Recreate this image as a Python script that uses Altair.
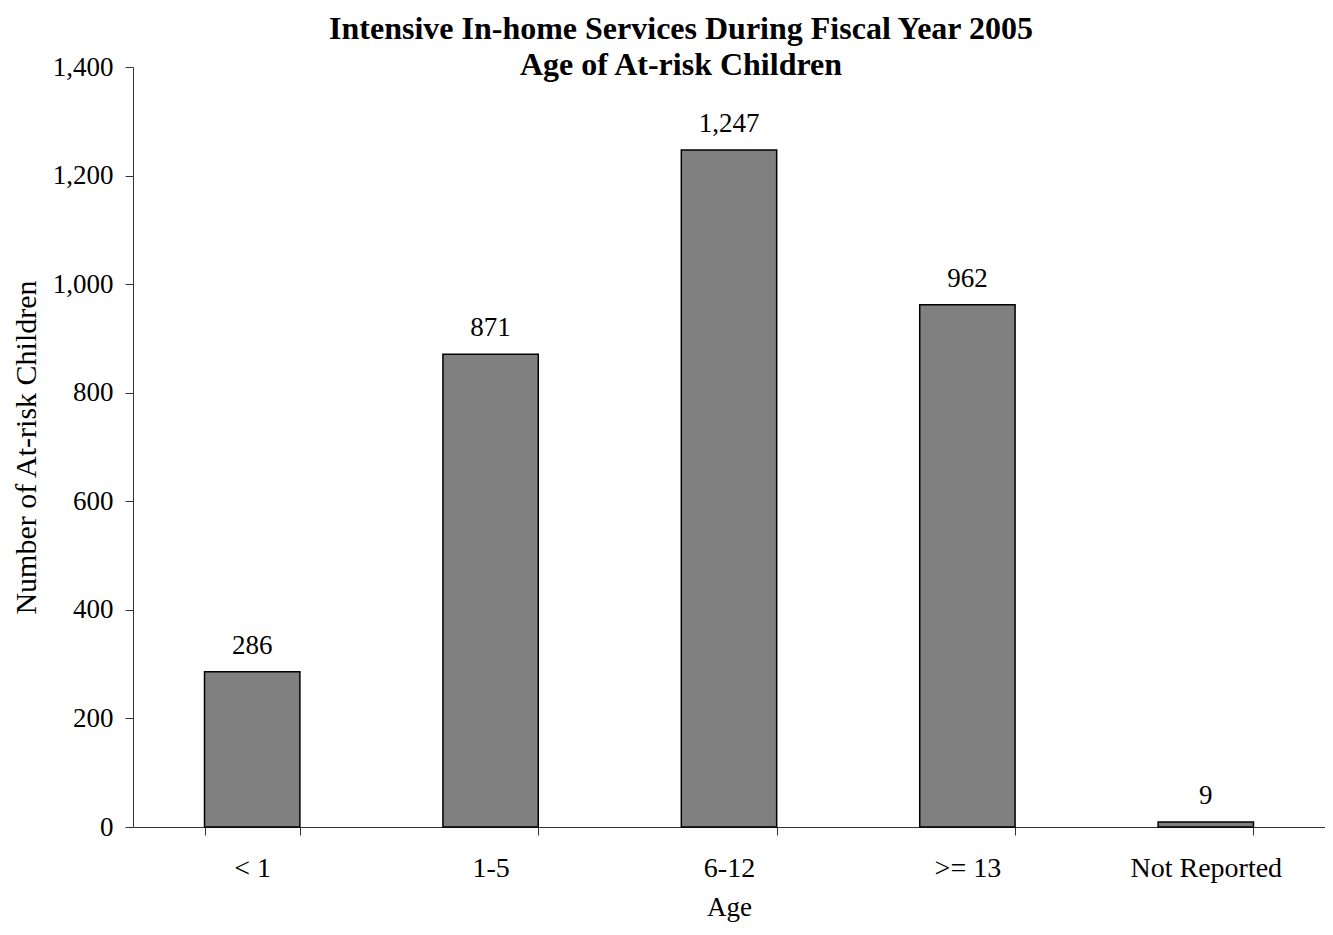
import altair as alt
import pandas as pd

categories = ["< 1", "1-5", "6-12", ">= 13", "Not Reported"]
values = [286, 871, 1247, 962, 9]

df = pd.DataFrame({"Age": categories, "Count": values})

FONT = "Liberation Serif"

x = alt.X(
    "Age:N",
    sort=categories,
    title="Age",
    scale=alt.Scale(paddingInner=0.6, paddingOuter=0.3),
    axis=alt.Axis(
        labelAngle=0,
        tickBand="extent",
        tickSize=8,
        labelPadding=19,
        labelFontSize=28,
        labelFont=FONT,
        labelColor="black",
        titleFontSize=27,
        titleFont=FONT,
        titleFontWeight="normal",
        titleColor="black",
        titlePadding=12,
        domainColor="#333333",
        tickColor="#333333",
        grid=False,
    ),
)

y = alt.Y(
    "Count:Q",
    title="Number of At-risk Children",
    scale=alt.Scale(domain=[0, 1400], nice=False),
    axis=alt.Axis(
        values=[0, 200, 400, 600, 800, 1000, 1200, 1400],
        format=",d",
        tickSize=8,
        labelPadding=12,
        labelFontSize=27,
        labelFont=FONT,
        labelColor="black",
        titleFontSize=30,
        titleFont=FONT,
        titleFontWeight="normal",
        titleColor="black",
        titlePadding=11,
        domainColor="#333333",
        tickColor="#333333",
        grid=False,
    ),
)

bars = alt.Chart(df).mark_bar(
    color="#808080", stroke="black", strokeWidth=1.5
).encode(x=x, y=y)

labels = alt.Chart(df).mark_text(
    baseline="bottom", dy=-12, fontSize=27, font=FONT, color="black"
).encode(
    x=alt.X("Age:N", sort=categories),
    y="Count:Q",
    text=alt.Text("Count:Q", format=",d"),
)

chart = (
    (bars + labels)
    .properties(
        width=1192,
        height=760,
        padding={"left": 125, "top": 59, "right": 0, "bottom": 98},
        autosize=alt.AutoSizeParams(type="none"),
        title=alt.Title(
            ["Intensive In-home Services During Fiscal Year 2005", "Age of At-risk Children"],
            font=FONT,
            fontSize=32,
            fontWeight="bold",
            color="black",
            anchor="middle",
            lineHeight=36,
            dx=-48,
            dy=33,
        ),
    )
    .configure_view(stroke=None)
)

chart.save("out.html", embed_options={"renderer": "svg", "actions": False})
